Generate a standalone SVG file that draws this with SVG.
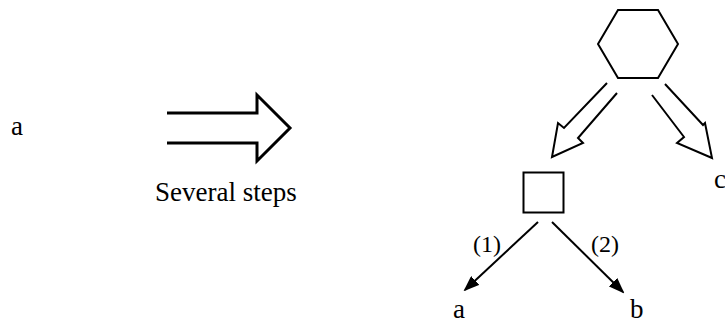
<svg xmlns="http://www.w3.org/2000/svg" width="725" height="327" viewBox="0 0 725 327">
<style>
text{font-family:"Liberation Serif","Times New Roman",serif;fill:#000}
.big{font-size:27px}
.lab{font-size:24px}
.shape{fill:#fff;stroke:#000;stroke-width:2}
.hollow{fill:none;stroke:#000;stroke-width:2;stroke-linejoin:miter}
.edge{stroke:#000;stroke-width:2;fill:none}
</style>
<defs>
<marker id="ah" markerWidth="16" markerHeight="12" refX="14" refY="6" orient="auto" markerUnits="userSpaceOnUse">
<path d="M0,0 L16,6 L0,12 z" fill="#000"/>
</marker>
</defs>
<g id="left-a"><text class="big" x="11" y="135">a</text></g>
<g id="transform-arrow">
<polyline class="hollow" style="stroke-width:3" points="167,113 257,113 257,95 290,128 257,161 257,143 167,143"/>
<text class="big" x="155" y="201">Several steps</text>
</g>
<g id="hexagon"><polygon class="shape" points="618,10 658,10 678,44 658,78 618,78 598,44"/></g>
<g id="square"><rect class="shape" x="523.5" y="172.5" width="40" height="40"/></g>
<g id="c-label"><text class="big" x="714" y="188">c</text></g>
<g id="a-leaf"><text class="big" x="453" y="318">a</text></g>
<g id="b-leaf"><text class="big" x="630" y="318">b</text></g>
<g id="connectors">
<polyline class="hollow" points="607,83 564,128 558,123 552,157 583,143 578,138 617,93"/>
<polyline class="hollow" points="665,84 703,125 705,123 712,158 677,143 684,137 652,95"/>
<line class="edge" x1="538" y1="222" x2="465" y2="290" marker-end="url(#ah)"/>
<line class="edge" x1="552" y1="222" x2="623" y2="292" marker-end="url(#ah)"/>
<text class="lab" x="473" y="252">(1)</text>
<text class="lab" x="591" y="252">(2)</text>
</g>
</svg>
